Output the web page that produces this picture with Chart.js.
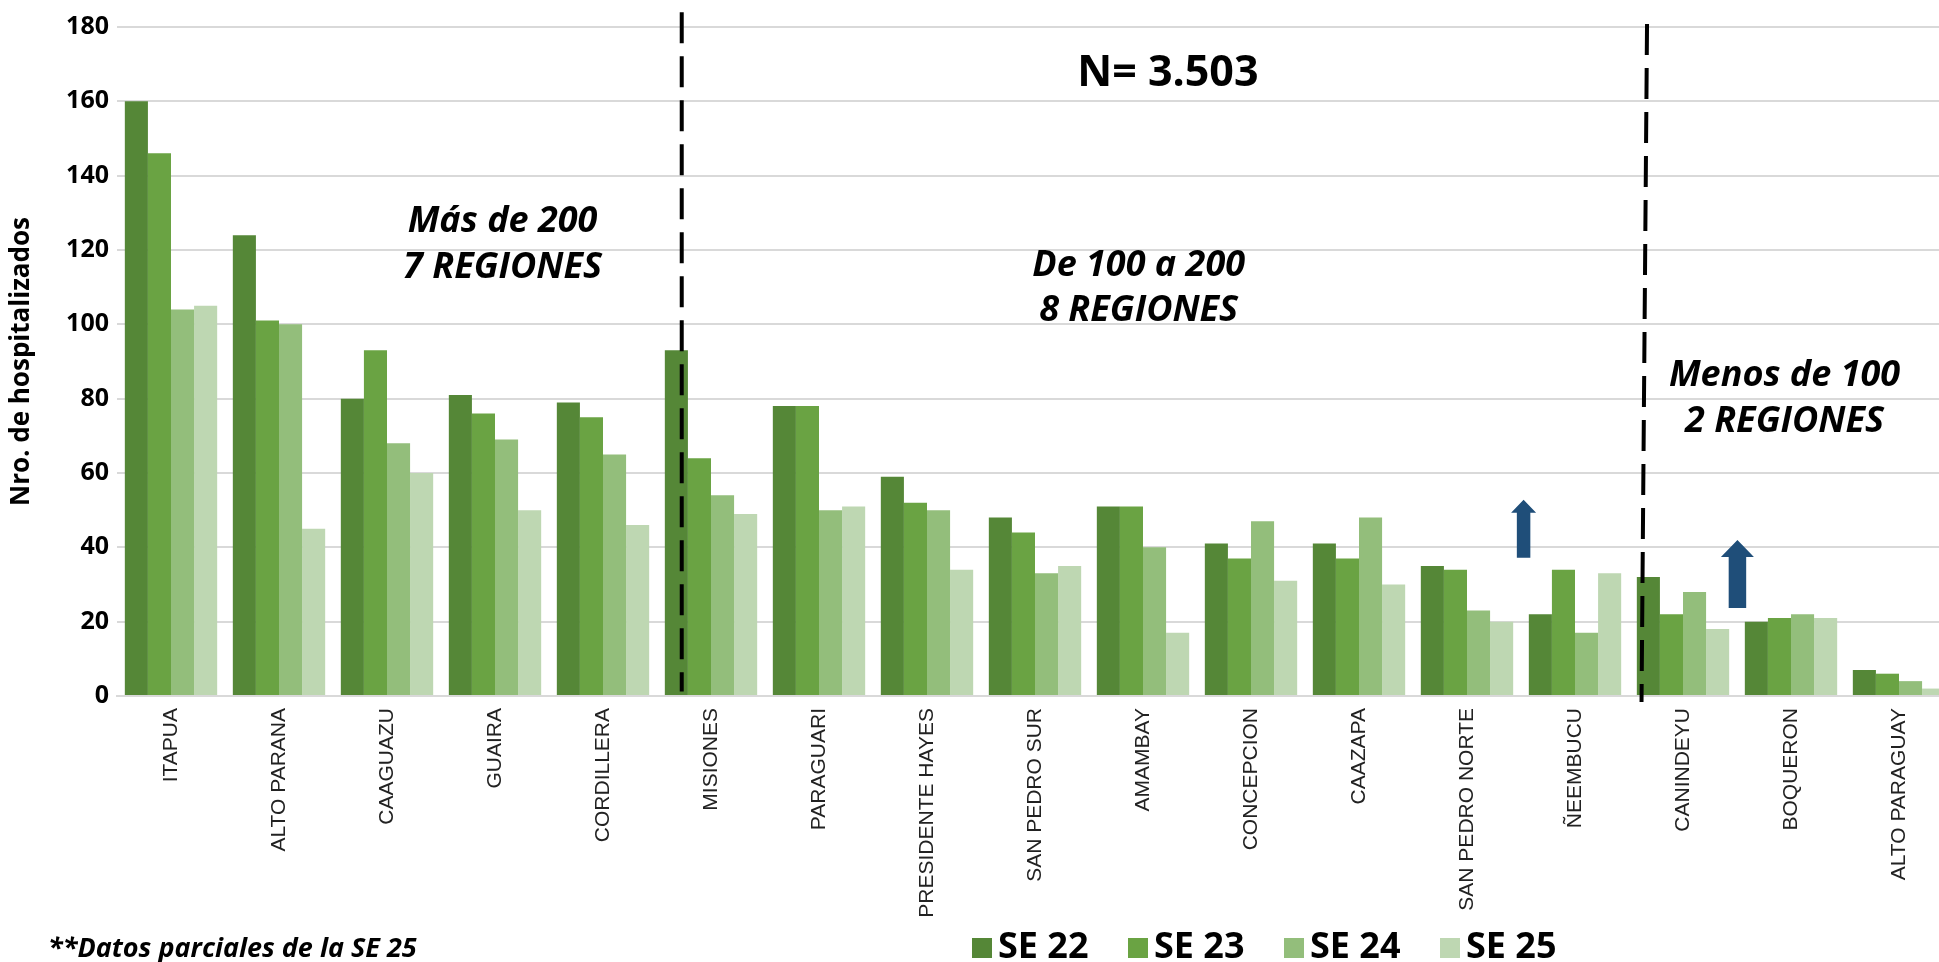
<!DOCTYPE html>
<html>
<head>
<meta charset="utf-8">
<script src="https://cdn.jsdelivr.net/npm/chart.js@4.4.1/dist/chart.umd.min.js"></script>
<style>
  html, body { margin: 0; padding: 0; background: #fff; overflow: hidden; }
  #chart { display: block; }
</style>
</head>
<body>
<canvas id="chart" width="1955" height="962" style="width:1955px;height:962px"></canvas>
<script>
// data
const categories = [
  "ITAPUA", "ALTO PARANA", "CAAGUAZU", "GUAIRA", "CORDILLERA", "MISIONES",
  "PARAGUARI", "PRESIDENTE HAYES", "SAN PEDRO SUR", "AMAMBAY", "CONCEPCION",
  "CAAZAPA", "SAN PEDRO NORTE", "ÑEEMBUCU", "CANINDEYU", "BOQUERON", "ALTO PARAGUAY",
];
const seriesNames = ["SE 22", "SE 23", "SE 24", "SE 25"];
const se22 = [160, 124, 80, 81, 79, 93, 78, 59, 48, 51, 41, 41, 35, 22, 32, 20, 7];
const se23 = [146, 101, 93, 76, 75, 64, 78, 52, 44, 51, 37, 37, 34, 34, 22, 21, 6];
const se24 = [104, 100, 68, 69, 65, 54, 50, 50, 33, 40, 47, 48, 23, 17, 28, 22, 4];
const se25 = [105, 45, 60, 50, 46, 49, 51, 34, 35, 17, 31, 30, 20, 33, 18, 21, 2];
const yMin = 0;
const yMax = 180;
const yStep = 20;

const colors = ["#558737", "#6AA343", "#93BE7B", "#BED7B2"];

// annotation anchors, in axis units (category index, value)
const regionNotes = [
  { x: 3.07, lines: [["Más de 200", 124.8], ["7 REGIONES", 112.6]] },
  { x: 8.96, lines: [["De 100 a 200", 112.9], ["8 REGIONES", 100.8]] },
  { x: 14.94, lines: [["Menos de 100", 83.3], ["2 REGIONES", 71.1]] },
];
const totalNote = { text: "N= 3.503", x: 9.23, y: 164.1 };
const dividers = [
  { x1: 4.729, y1: 184, x2: 4.729, y2: 1.2 },
  { x1: 13.667, y1: 180.8, x2: 13.616, y2: -1.6 },
];
const arrows = [
  { x: 12.524, top: 52.8, bottom: 37.2, shaft: 13.5, head: 25, headH: 13 },
  { x: 14.504, top: 42.0, bottom: 23.7, shaft: 17.5, head: 33, headH: 17 },
];
const footnote = "**Datos parciales de la SE 25";

const overlay = {
  id: "overlay",
  afterDraw(chart) {
    const { ctx } = chart;
    const x = chart.scales.x;
    const y = chart.scales.y;
    ctx.save();

    // dashed separators
    ctx.strokeStyle = "#000";
    ctx.lineWidth = 4;
    ctx.setLineDash([31, 13]);
    dividers.forEach((d) => {
      ctx.beginPath();
      ctx.moveTo(x.getPixelForValue(d.x1), y.getPixelForValue(d.y1));
      ctx.lineTo(x.getPixelForValue(d.x2), y.getPixelForValue(d.y2));
      ctx.stroke();
    });
    ctx.setLineDash([]);

    // blue arrows
    ctx.fillStyle = "#1F4E79";
    arrows.forEach((a) => {
      const cx = x.getPixelForValue(a.x);
      const t = y.getPixelForValue(a.top);
      const b = y.getPixelForValue(a.bottom);
      ctx.beginPath();
      ctx.moveTo(cx, t);
      ctx.lineTo(cx + a.head / 2, t + a.headH);
      ctx.lineTo(cx + a.shaft / 2, t + a.headH);
      ctx.lineTo(cx + a.shaft / 2, b);
      ctx.lineTo(cx - a.shaft / 2, b);
      ctx.lineTo(cx - a.shaft / 2, t + a.headH);
      ctx.lineTo(cx - a.head / 2, t + a.headH);
      ctx.closePath();
      ctx.fill();
    });

    // texts
    ctx.fillStyle = "#000";
    ctx.textAlign = "center";
    ctx.textBaseline = "alphabetic";
    ctx.font = "italic bold 36px 'Open Sans', 'Noto Sans', sans-serif";
    regionNotes.forEach((n) => {
      n.lines.forEach(([txt, v]) => {
        ctx.fillText(txt, x.getPixelForValue(n.x), y.getPixelForValue(v));
      });
    });
    ctx.font = "bold 43px 'Open Sans', 'Noto Sans', sans-serif";
    ctx.fillText(totalNote.text, x.getPixelForValue(totalNote.x), y.getPixelForValue(totalNote.y));

    // footnote
    ctx.textAlign = "left";
    ctx.font = "italic bold 27px 'Open Sans', 'Noto Sans', sans-serif";
    ctx.fillText(footnote, 48, 957);

    // legend
    ctx.font = "bold 36px 'Open Sans', 'Noto Sans', sans-serif";
    chart.data.datasets.forEach((ds, i) => {
      const lx = 972 + i * 156;
      ctx.fillStyle = ds.backgroundColor;
      ctx.fillRect(lx, 938, 20, 20);
      ctx.fillStyle = "#000";
      ctx.fillText(ds.label, lx + 26, 958);
    });

    ctx.restore();
  },
};

const seriesValues = [se22, se23, se24, se25];

new Chart(document.getElementById("chart"), {
  type: "bar",
  data: {
    labels: categories,
    datasets: seriesNames.map((name, i) => ({
      label: name,
      data: seriesValues[i],
      backgroundColor: colors[i],
      borderWidth: 0,
      categoryPercentage: 0.855,
      barPercentage: 1.0,
    })),
  },
  options: {
    responsive: false,
    animation: false,
    devicePixelRatio: 1,
    layout: { padding: { top: 27, right: 2, left: 0, bottom: 0 } },
    plugins: {
      legend: { display: false },
      tooltip: { enabled: false },
    },
    scales: {
      x: {
        grid: { display: false, drawTicks: false },
        border: { display: true, color: "#D9D9D9", width: 2 },
        ticks: {
          minRotation: 90,
          maxRotation: 90,
          autoSkip: false,
          padding: 12,
          color: "#222",
          font: { family: "'Liberation Sans', Arial, sans-serif", size: 21 },
        },
        afterFit: (s) => { s.height = 266; },
      },
      y: {
        min: yMin,
        max: yMax,
        grid: { color: "#D9D9D9", lineWidth: 2, drawTicks: false },
        border: { display: false },
        ticks: {
          stepSize: yStep,
          padding: 8,
          color: "#000",
          font: { family: "'Open Sans', 'Noto Sans', sans-serif", size: 25, weight: "bold" },
        },
        title: {
          display: true,
          text: "Nro. de hospitalizados",
          color: "#000",
          padding: { top: 6, bottom: 0 },
          font: { family: "'Open Sans', 'Noto Sans', sans-serif", size: 26, weight: "bold" },
        },
        afterFit: (s) => { s.width = 117; },
      },
    },
  },
  plugins: [overlay],
});
</script>
</body>
</html>
